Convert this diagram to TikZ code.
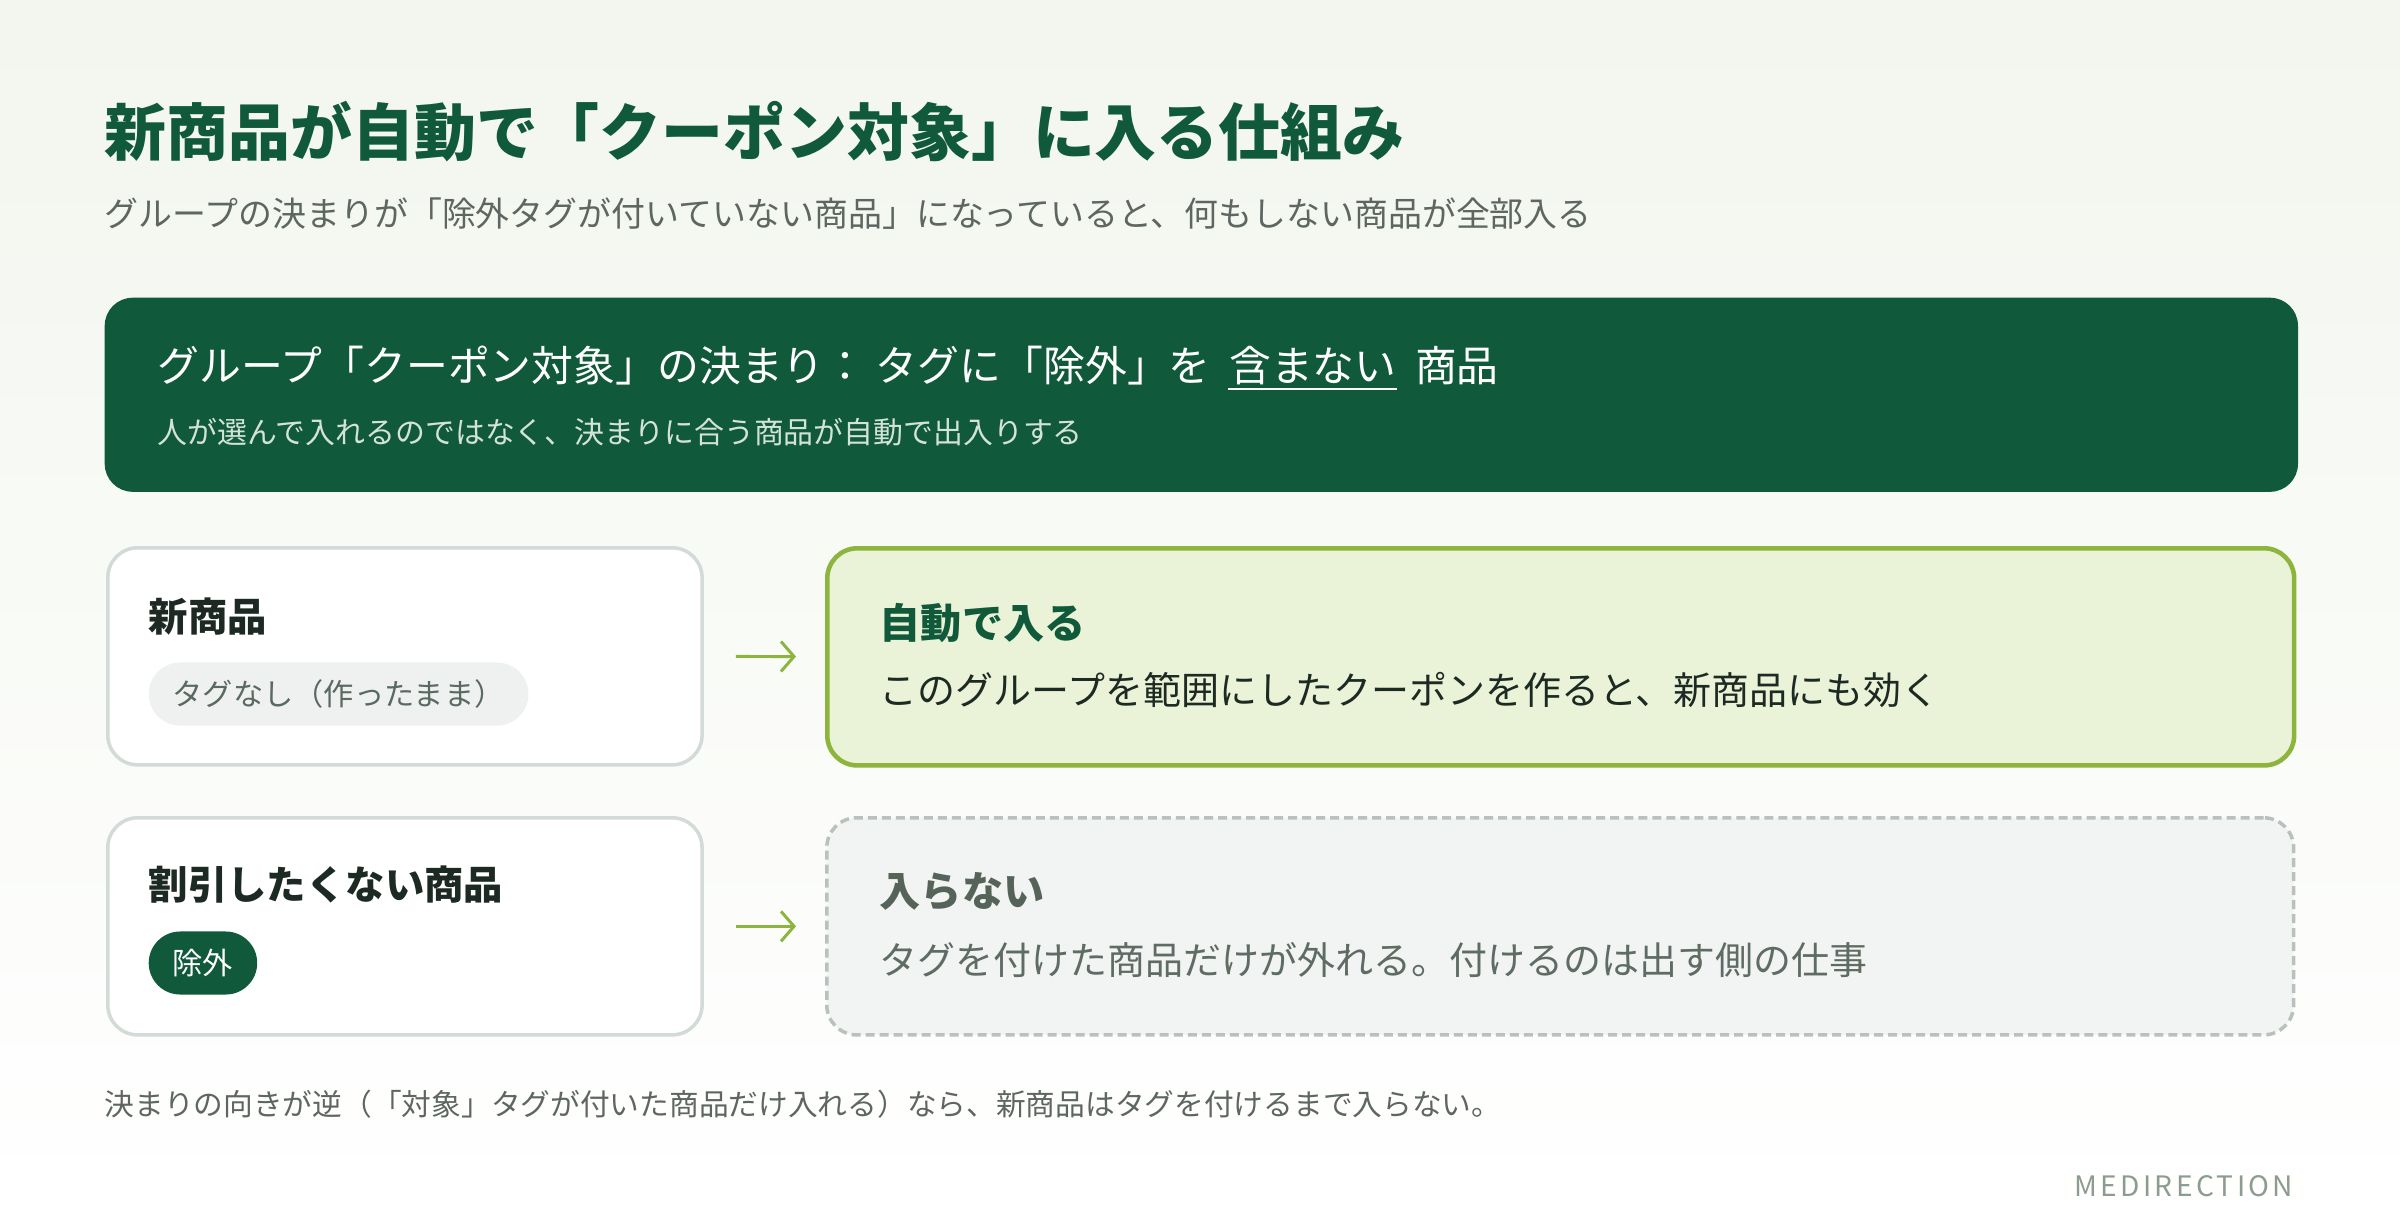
\documentclass[tikz,border=0pt]{standalone}
\usepackage{fontspec}
\setmainfont{Noto Sans CJK JP}
\usetikzlibrary{arrows.meta,positioning}

\definecolor{deepgreen}{HTML}{10593B}
\definecolor{bgtint}{HTML}{F2F6EE}
\definecolor{inkdark}{HTML}{1D2A23}
\definecolor{inkgrey}{HTML}{5E6661}
\definecolor{notegreen}{HTML}{D3E3D9}
\definecolor{boxline}{HTML}{D2DBD7}
\definecolor{pillgrey}{HTML}{EFF1F0}
\definecolor{pilltext}{HTML}{5A6A61}
\definecolor{leaf}{HTML}{8DB53E}
\definecolor{leaffill}{HTML}{EAF3D7}
\definecolor{offfill}{HTML}{F2F4F3}
\definecolor{offline}{HTML}{B8C1BD}
\definecolor{offtext}{HTML}{566359}
\definecolor{offbody}{HTML}{5F6C64}
\definecolor{brand}{HTML}{8C9C93}

\tikzset{
  txt/.style={anchor=west, inner sep=0pt},
  itembox/.style={anchor=north west, draw=boxline, line width=1pt, fill=white,
    rounded corners=0.3cm, minimum width=5.94cm, minimum height=2.17cm},
  resultbox/.style={anchor=north west, rounded corners=0.3cm,
    minimum width=14.66cm, minimum height=2.17cm},
  itemhead/.style={txt, font=\bfseries\fontsize{11.2pt}{13pt}\selectfont, text=inkdark},
  resulthead/.style={txt, font=\bfseries\fontsize{11.7pt}{14pt}\selectfont},
  resultbody/.style={txt, font=\fontsize{10.8pt}{13pt}\selectfont},
  pill/.style={anchor=west, inner xsep=0.24cm, inner ysep=0pt, minimum height=0.63cm,
    rounded corners=0.315cm, font=\fontsize{8.6pt}{10pt}\selectfont},
  flow/.style={-{Straight Barb[length=0.13cm,width=0.3cm]}, draw=leaf, line width=0.85pt,
    shorten <=0.32cm, shorten >=0.29cm},
}

\begin{document}
\begin{tikzpicture}[x=0.01cm,y=-0.01cm]
  % Background
  \shade[top color=bgtint, middle color=white, bottom color=white] (0,0) rectangle (2400,1224);
  \useasboundingbox (0,0) rectangle (2400,1224);

  % Title and subtitle
  \node[txt, font=\bfseries\fontsize{17.6pt}{20pt}\selectfont, text=deepgreen] (title) at (104,132)
    {新商品が自動で「クーポン対象」に入る仕組み};
  \node[txt, font=\fontsize{9.65pt}{12pt}\selectfont, text=inkgrey] (subtitle) at (104,214)
    {グループの決まりが「除外タグが付いていない商品」になっていると、何もしない商品が全部入る};

  % Rule banner
  \node[anchor=north west, fill=deepgreen, rounded corners=0.28cm,
    minimum width=21.92cm, minimum height=1.94cm] (rule) at (104,297) {};
  \node[txt, font=\fontsize{11.9pt}{14pt}\selectfont, text=white] (rulehead) at (157,366)
    {グループ「クーポン対象」の決まり： タグに「除外」を};
  \node[base right=0.17cm of rulehead, inner sep=0pt, font=\fontsize{11.9pt}{14pt}\selectfont,
    text=white] (ruleneg) {含まない};
  \node[base right=0.17cm of ruleneg, inner sep=0pt, font=\fontsize{11.9pt}{14pt}\selectfont,
    text=white] (ruletail) {商品};
  \draw[white, line width=0.8pt] ([yshift=-0.07cm]ruleneg.base west) -- ([yshift=-0.07cm]ruleneg.base east);
  \node[txt, font=\fontsize{8.5pt}{10pt}\selectfont, text=notegreen] (rulenote) at (157,432)
    {人が選んで入れるのではなく、決まりに合う商品が自動で出入りする};

  % Items
  \node[itembox] (newitem) at (106,546) {};
  \node[itemhead] (newhead) at (148,617) {新商品};
  \node[pill, fill=pillgrey, text=pilltext] (notag) at (148,694) {タグなし（作ったまま）};

  \node[itembox] (keepitem) at (106,816) {};
  \node[itemhead] (keephead) at (148,885) {割引したくない商品};
  \node[pill, fill=deepgreen, text=white] (extag) at (148,963) {除外};

  % Results
  \node[resultbox, fill=leaffill, draw=leaf, line width=1.3pt] (inbox) at (825,546) {};
  \node[resulthead, text=deepgreen] (inhead) at (879,623) {自動で入る};
  \node[resultbody, text=inkdark] (inbody) at (879,690)
    {このグループを範囲にしたクーポンを作ると、新商品にも効く};

  \node[resultbox, fill=offfill, draw=offline, line width=1pt,
    dash pattern=on 0.09cm off 0.05cm] (outbox) at (825,816) {};
  \node[resulthead, text=offtext] (outhead) at (879,891) {入らない};
  \node[resultbody, text=offbody] (outbody) at (879,960)
    {タグを付けた商品だけが外れる。付けるのは出す側の仕事};

  % Arrows
  \draw[flow] (newitem) -- (inbox);
  \draw[flow] (keepitem) -- (outbox);

  % Footer
  \node[txt, font=\fontsize{8.45pt}{10pt}\selectfont, text=inkgrey] (footnote) at (104,1104)
    {決まりの向きが逆（「対象」タグが付いた商品だけ入れる）なら、新商品はタグを付けるまで入らない。};
  \node[anchor=east, inner sep=0pt, font=\fontsize{8pt}{9pt}\selectfont\addfontfeature{LetterSpace=12},
    text=brand] (brand) at (2294,1186) {MEDIRECTION};
\end{tikzpicture}
\end{document}
